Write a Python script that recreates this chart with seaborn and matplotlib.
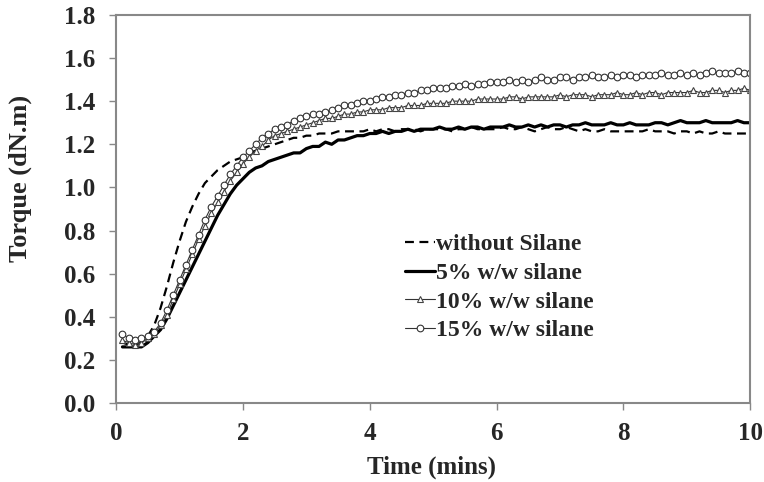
import numpy as np
import pandas as pd
import seaborn as sns
import matplotlib.pyplot as plt

# sampling times (min)
time = [0.1, 0.2, 0.3, 0.4, 0.5, 0.6, 0.7, 0.8, 0.9, 1.0,
        1.1, 1.2, 1.3, 1.4, 1.5, 1.6, 1.7, 1.8, 1.9, 2.0,
        2.1, 2.2, 2.3, 2.4, 2.5, 2.6, 2.7, 2.8, 2.9, 3.0,
        3.1, 3.2, 3.3, 3.4, 3.5, 3.6, 3.7, 3.8, 3.9, 4.0,
        4.1, 4.2, 4.3, 4.4, 4.5, 4.6, 4.7, 4.8, 4.9, 5.0,
        5.1, 5.2, 5.3, 5.4, 5.5, 5.6, 5.7, 5.8, 5.9, 6.0,
        6.1, 6.2, 6.3, 6.4, 6.5, 6.6, 6.7, 6.8, 6.9, 7.0,
        7.1, 7.2, 7.3, 7.4, 7.5, 7.6, 7.7, 7.8, 7.9, 8.0,
        8.1, 8.2, 8.3, 8.4, 8.5, 8.6, 8.7, 8.8, 8.9, 9.0,
        9.1, 9.2, 9.3, 9.4, 9.5, 9.6, 9.7, 9.8, 9.9, 10.0]

no_silane = [0.28, 0.27, 0.27, 0.28, 0.31, 0.36, 0.44, 0.54, 0.65, 0.75,
             0.84, 0.91, 0.97, 1.02, 1.05, 1.08, 1.10, 1.12, 1.13, 1.14,
             1.16, 1.17, 1.18, 1.19, 1.20, 1.21, 1.22, 1.23, 1.23, 1.24,
             1.24, 1.25, 1.25, 1.25, 1.26, 1.26, 1.26, 1.26, 1.26, 1.27,
             1.26, 1.27, 1.27, 1.26, 1.27, 1.27, 1.27, 1.26, 1.27, 1.27,
             1.27, 1.27, 1.26, 1.27, 1.27, 1.28, 1.27, 1.27, 1.27, 1.27,
             1.28, 1.27, 1.27, 1.28, 1.27, 1.26, 1.27, 1.28, 1.27, 1.27,
             1.28, 1.27, 1.26, 1.27, 1.26, 1.26, 1.27, 1.26, 1.26, 1.26,
             1.26, 1.26, 1.26, 1.27, 1.26, 1.26, 1.26, 1.25, 1.26, 1.26,
             1.25, 1.26, 1.25, 1.25, 1.26, 1.25, 1.25, 1.25, 1.25, 1.25]

silane5 = [0.26, 0.26, 0.26, 0.26, 0.28, 0.31, 0.34, 0.39, 0.45, 0.51,
           0.57, 0.63, 0.69, 0.75, 0.81, 0.87, 0.92, 0.97, 1.01, 1.04,
           1.07, 1.09, 1.10, 1.12, 1.13, 1.14, 1.15, 1.16, 1.16, 1.18,
           1.19, 1.19, 1.21, 1.20, 1.22, 1.22, 1.23, 1.24, 1.24, 1.25,
           1.25, 1.26, 1.25, 1.26, 1.26, 1.27, 1.26, 1.27, 1.27, 1.27,
           1.28, 1.27, 1.27, 1.28, 1.27, 1.28, 1.28, 1.27, 1.28, 1.28,
           1.28, 1.29, 1.28, 1.28, 1.29, 1.28, 1.29, 1.28, 1.29, 1.29,
           1.28, 1.29, 1.29, 1.30, 1.29, 1.29, 1.29, 1.30, 1.29, 1.29,
           1.30, 1.29, 1.29, 1.29, 1.30, 1.30, 1.29, 1.30, 1.31, 1.30,
           1.30, 1.30, 1.31, 1.30, 1.30, 1.30, 1.30, 1.31, 1.30, 1.30]

silane10 = [0.29, 0.28, 0.27, 0.28, 0.30, 0.32, 0.36, 0.41, 0.48, 0.55,
            0.62, 0.69, 0.76, 0.82, 0.88, 0.93, 0.98, 1.03, 1.07, 1.11,
            1.14, 1.17, 1.19, 1.22, 1.24, 1.25, 1.26, 1.27, 1.28, 1.29,
            1.30, 1.31, 1.32, 1.32, 1.33, 1.34, 1.34, 1.35, 1.35, 1.36,
            1.36, 1.36, 1.37, 1.37, 1.37, 1.38, 1.38, 1.38, 1.39, 1.39,
            1.39, 1.39, 1.40, 1.40, 1.40, 1.40, 1.41, 1.41, 1.41, 1.41,
            1.41, 1.42, 1.42, 1.41, 1.42, 1.42, 1.42, 1.42, 1.42, 1.43,
            1.42, 1.43, 1.43, 1.43, 1.42, 1.43, 1.43, 1.43, 1.44, 1.43,
            1.43, 1.44, 1.43, 1.44, 1.44, 1.43, 1.44, 1.44, 1.44, 1.44,
            1.45, 1.44, 1.44, 1.45, 1.45, 1.44, 1.45, 1.45, 1.46, 1.45]

silane15 = [0.32, 0.30, 0.29, 0.30, 0.31, 0.33, 0.37, 0.43, 0.50, 0.57,
            0.64, 0.71, 0.78, 0.85, 0.91, 0.96, 1.01, 1.06, 1.10, 1.14,
            1.17, 1.20, 1.23, 1.25, 1.27, 1.28, 1.29, 1.31, 1.32, 1.33,
            1.34, 1.34, 1.35, 1.36, 1.37, 1.38, 1.38, 1.39, 1.40, 1.40,
            1.41, 1.42, 1.42, 1.43, 1.43, 1.44, 1.44, 1.45, 1.45, 1.46,
            1.46, 1.46, 1.47, 1.47, 1.48, 1.47, 1.48, 1.48, 1.49, 1.49,
            1.49, 1.50, 1.49, 1.50, 1.49, 1.50, 1.51, 1.50, 1.50, 1.51,
            1.51, 1.50, 1.51, 1.51, 1.52, 1.51, 1.51, 1.52, 1.51, 1.52,
            1.52, 1.51, 1.52, 1.52, 1.52, 1.53, 1.52, 1.52, 1.53, 1.52,
            1.53, 1.52, 1.53, 1.54, 1.53, 1.53, 1.53, 1.54, 1.53, 1.53]

labels = ['without Silane', '5% w/w silane', '10% w/w silane', '15% w/w silane']

df = pd.DataFrame({'time': time, labels[0]: no_silane, labels[1]: silane5,
                   labels[2]: silane10, labels[3]: silane15})

sns.set_style('ticks')
plt.rcParams['font.family'] = ['Liberation Serif', 'DejaVu Serif']
plt.rcParams['font.weight'] = 'bold'

fig = plt.figure(figsize=(7.64, 4.82), dpi=100)
ax = fig.add_axes([0.152, 0.164, 0.83, 0.805])

sns.lineplot(data=df, x='time', y=labels[0], ax=ax, color='black', lw=1.6,
             label=labels[0])
ax.lines[-1].set_dashes((4, 2.5))
sns.lineplot(data=df, x='time', y=labels[1], ax=ax, color='black', lw=2.3,
             label=labels[1])
sns.lineplot(data=df, x='time', y=labels[2], ax=ax, color='#333333', lw=0.8,
             marker='^', markersize=5, markerfacecolor='white',
             markeredgecolor='#444444', markeredgewidth=0.8, label=labels[2])
sns.lineplot(data=df, x='time', y=labels[3], ax=ax, color='#333333', lw=0.8,
             marker='o', markersize=4.8, markerfacecolor='white',
             markeredgecolor='#333333', markeredgewidth=0.8, label=labels[3])

ax.set_xlim(0, 10)
ax.set_ylim(0, 1.8)
ax.set_xticks([0, 2, 4, 6, 8, 10])
ax.set_yticks(np.arange(0, 1.81, 0.2))
ax.yaxis.set_major_formatter(plt.FormatStrFormatter('%.1f'))
ax.tick_params(axis='both', labelsize=18, color='#888888', length=5, width=1)
ax.tick_params(axis='y', pad=10)
ax.tick_params(axis='x', pad=9)
for s in ax.spines.values():
    s.set_color('#888888')
    s.set_linewidth(1.5)

ax.set_xlabel('Time (mins)', fontsize=18, fontweight='bold')
ax.set_ylabel('Torque (dN.m)', fontsize=19, fontweight='bold')
ax.xaxis.set_label_coords(0.498, -0.135)
ax.yaxis.set_label_coords(-0.133, 0.579)

leg = ax.legend(loc='upper left', bbox_to_anchor=(0.44, 0.46), frameon=False,
                fontsize=17, handlelength=1.3, handletextpad=0.05,
                labelspacing=0.3, borderaxespad=0)
for t in leg.get_texts():
    t.set_fontweight('bold')

fig.savefig('out.png', dpi=100)
